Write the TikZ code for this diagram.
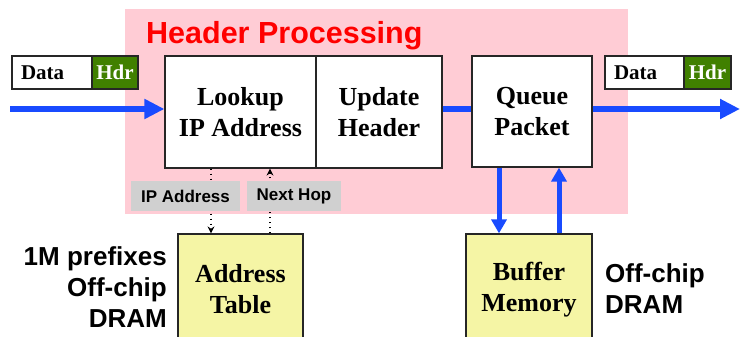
\documentclass[tikz,border=0pt]{standalone}
\usepackage{fontspec}
\setmainfont{Liberation Serif}
\setsansfont{Liberation Sans}
\usetikzlibrary{arrows.meta}
\definecolor{hppink}{RGB}{255,204,213}
\definecolor{hdrgreen}{RGB}{64,128,0}
\definecolor{memyellow}{RGB}{245,245,165}
\definecolor{taggrey}{RGB}{208,208,208}
\definecolor{flowblue}{RGB}{25,75,255}
\tikzset{
	unit/.style={draw=black!85, line width=1.2pt, fill=white, inner sep=0pt, align=center, font=\fontsize{26}{31}\selectfont\bfseries},
	mem/.style={unit, fill=memyellow},
	pkt/.style={draw=black!85, line width=1.2pt, fill=white, inner sep=0pt, minimum height=33pt, font=\fontsize{21}{24}\selectfont\bfseries},
	payload/.style={pkt, inner xsep=9pt, align=left},
	hdr/.style={pkt, fill=hdrgreen, text=white},
	tag/.style={fill=taggrey, inner sep=0pt, minimum height=30pt, font=\sffamily\bfseries\fontsize{17}{20}\selectfont},
	note/.style={inner sep=0pt, font=\sffamily\bfseries\fontsize{26}{31}\selectfont},
	flow/.style={flowblue, line width=6pt},
	memflow/.style={flowblue, line width=5pt, -{Triangle[length=14pt,width=15pt]}},
	query/.style={line width=2.2pt, dash pattern=on 1.8pt off 3.2pt, -{Stealth[length=7pt,width=7pt]}}
}
\begin{document}
\begin{tikzpicture}[x=1pt, y=-1pt]
		\useasboundingbox (0,0) rectangle (740,337);
		\node (hp) [fill=hppink, minimum width=503pt, minimum height=205pt, inner sep=0pt] at (376.5,111.5) {};
		\node (title) [anchor=base west, inner sep=0pt, text=red, font=\sffamily\bfseries\fontsize{30.5}{34}\selectfont] at (146,44) {Header Processing};
		% packets in and out
		\node (indata) [payload, text width=62pt] at (52,72.5) {Data};
		\node (inhdr) [hdr, minimum width=46pt] at (115,72.5) {Hdr};
		\node (outdata) [payload, text width=61pt] at (644.5,72.5) {Data};
		\node (outhdr) [hdr, minimum width=47pt] at (707.5,72.5) {Hdr};
		% pipeline
		\node (lookup) [unit, minimum width=151pt, minimum height=112pt] at (240.5,112) {Lookup\\IP Address};
		\node (update) [unit, minimum width=126pt, minimum height=112pt] at (379,112) {Update\\Header};
		\node (queue) [unit, minimum width=120pt, minimum height=111pt] at (532,111.5) {Queue\\Packet};
		\node (addr) [mem, minimum width=125pt, minimum height=111pt] at (240.5,289.5) {Address\\Table};
		\node (buffer) [mem, minimum width=126pt, minimum height=111pt] at (529,289.5) {Buffer\\Memory};
		\coordinate (src) at (10,109);
		\coordinate (dst) at (740,109);
		\draw [flow, -{Triangle[length=20pt,width=19pt]}] (src) -- (src -| lookup.west);
		\draw [flow] (update.east |- src) -- (queue.west |- src);
		\draw [flow, -{Triangle[length=20pt,width=19pt]}] (queue.east |- dst) -- (dst);
		\draw [memflow] ([xshift=-33pt]queue.south) -- ([xshift=-33pt]queue.south |- buffer.north);
		\draw [memflow] ([xshift=27pt]queue.south |- buffer.north) -- ([xshift=27pt]queue.south);
		% lookup in the table
		\draw [query] ([xshift=-29.5pt]lookup.south) -- ([xshift=-29.5pt]addr.north);
		\draw [query] ([xshift=29.5pt]addr.north) -- ([xshift=29.5pt]lookup.south);
		\node (ipaddr) [tag, minimum width=109pt] at (185.5,196) {IP Address};
		\node (nexthop) [tag, minimum width=94pt] at (294,196) {Next Hop};
		\node (addrnote) [note, anchor=north east, align=right] at (167,246) {1M prefixes\\Off-chip\\DRAM};
		\node (bufnote) [note, anchor=north west, align=left] at (605,263) {Off-chip\\DRAM};
\end{tikzpicture}
\end{document}
